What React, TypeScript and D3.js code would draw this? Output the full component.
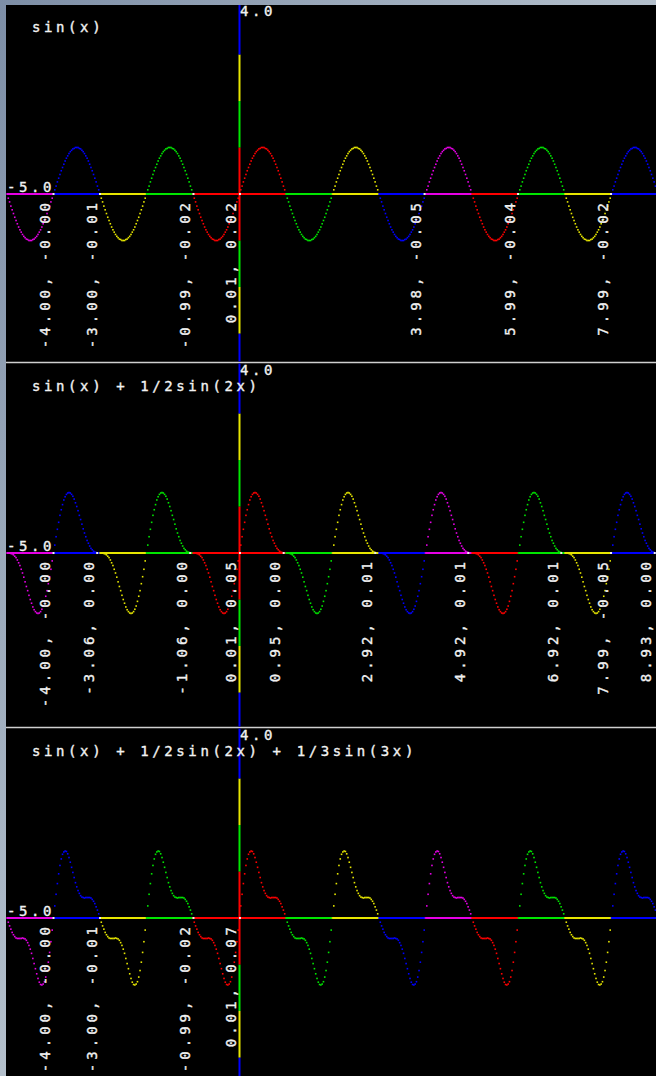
import React, { useEffect, useRef } from 'react';
import * as d3 from 'd3';

// titles of the three plots
const titles = ['sin(x)', 'sin(x) + 1/2sin(2x)', 'sin(x) + 1/2sin(2x) + 1/3sin(3x)'];

// one full cycle (2 x-units) of each curve, one value every 1/36 unit
const sinCycle = [
  0, 0.09, 0.17, 0.26, 0.34, 0.42, 0.5, 0.57, 0.64, 0.71, 0.77, 0.82, 0.87, 0.91, 0.94, 0.97, 0.98, 1.0,
  1.0, 1.0, 0.98, 0.97, 0.94, 0.91, 0.87, 0.82, 0.77, 0.71, 0.64, 0.57, 0.5, 0.42, 0.34, 0.26, 0.17, 0.09,
  0, -0.09, -0.17, -0.26, -0.34, -0.42, -0.5, -0.57, -0.64, -0.71, -0.77, -0.82, -0.87, -0.91, -0.94, -0.97, -0.98, -1.0,
  -1.0, -1.0, -0.98, -0.97, -0.94, -0.91, -0.87, -0.82, -0.77, -0.71, -0.64, -0.57, -0.5, -0.42, -0.34, -0.26, -0.17, -0.09,
];
const sin2Cycle = [
  0, 0.17, 0.35, 0.51, 0.66, 0.81, 0.93, 1.04, 1.14, 1.21, 1.26, 1.29, 1.3, 1.29, 1.26, 1.22, 1.16, 1.08,
  1.0, 0.91, 0.81, 0.72, 0.62, 0.52, 0.43, 0.35, 0.27, 0.21, 0.15, 0.1, 0.07, 0.04, 0.02, 0.01, 0, 0,
  0, 0, 0, -0.01, -0.02, -0.04, -0.07, -0.1, -0.15, -0.21, -0.27, -0.35, -0.43, -0.52, -0.62, -0.72, -0.81, -0.91,
  -1.0, -1.08, -1.16, -1.22, -1.26, -1.29, -1.3, -1.29, -1.26, -1.21, -1.14, -1.04, -0.93, -0.81, -0.66, -0.51, -0.35, -0.17,
];
const sin3Cycle = [
  0, 0.26, 0.51, 0.74, 0.95, 1.13, 1.27, 1.37, 1.42, 1.44, 1.43, 1.38, 1.3, 1.2, 1.09, 0.98, 0.87, 0.76,
  0.67, 0.59, 0.53, 0.48, 0.45, 0.44, 0.43, 0.44, 0.44, 0.44, 0.44, 0.43, 0.4, 0.36, 0.31, 0.24, 0.17, 0.09,
  0, -0.09, -0.17, -0.24, -0.31, -0.36, -0.4, -0.43, -0.44, -0.44, -0.44, -0.44, -0.43, -0.44, -0.45, -0.48, -0.53, -0.59,
  -0.67, -0.76, -0.87, -0.98, -1.09, -1.2, -1.3, -1.38, -1.43, -1.44, -1.42, -1.37, -1.27, -1.13, -0.95, -0.74, -0.51, -0.26,
];
const curves = [sinCycle, sin2Cycle, sin3Cycle];

// x where each cycle starts
const cycleStarts = [-6, -4, -2, 0, 2, 4, 6, 8];

// zero crossing labels "x, y"
const labelX1 = ['-4.00', '-3.00', '-0.99', '0.01', '3.98', '5.99', '7.99'];
const labelY1 = ['-0.00', '-0.01', '-0.02', '0.02', '-0.05', '-0.04', '-0.02'];
const labelX2 = ['-4.00', '-3.06', '-1.06', '0.01', '0.95', '2.92', '4.92', '6.92', '7.99', '8.93'];
const labelY2 = ['-0.00', '0.00', '0.00', '0.05', '0.00', '0.01', '0.01', '0.01', '-0.05', '0.00'];
const labelX3 = ['-4.00', '-3.00', '-0.99', '0.01'];
const labelY3 = ['-0.00', '-0.01', '-0.02', '0.07'];
const labelXs = [labelX1, labelX2, labelX3];
const labelYs = [labelY1, labelY2, labelY3];

const yMaxLabel = '4.0';
const xMinLabel = '-5.0';

// red, green, yellow, blue, magenta counted outwards from zero
const segColors = ['#ff0000', '#00e600', '#e6e600', '#0000ff', '#e600e6'];

const W = 656;
const H = 1076;
const UNIT = 46.5;
const X0 = 239.5;
const panels = [
  { top: 5, bottom: 361.5, axis: 194 },
  { top: 363.5, bottom: 726.5, axis: 553 },
  { top: 728.5, bottom: H, axis: 918 },
];
const FONT = '"DejaVu Sans Mono", monospace';

const colorFor = (k: number) => segColors[k >= 0 ? k % 5 : (-k - 1) % 5];

// shared look of the blocky white text
const styleText = (t: any, spacing: number) =>
  t.attr('font-family', FONT)
    .attr('font-size', 14)
    .attr('letter-spacing', spacing)
    .attr('fill', '#f2f2f2')
    .attr('stroke', '#f2f2f2')
    .attr('stroke-width', 0.35);

const App = () => {
  const ref = useRef<SVGSVGElement>(null);

  useEffect(() => {
    const svg = d3.select(ref.current);
    svg.selectAll('*').remove();

    const grad = svg.append('defs').append('linearGradient')
      .attr('id', 'frame').attr('x1', 0).attr('y1', 0).attr('x2', 1).attr('y2', 1);
    grad.append('stop').attr('offset', 0).attr('stop-color', '#7d8ea6');
    grad.append('stop').attr('offset', 0.5).attr('stop-color', '#b4c0cc');
    grad.append('stop').attr('offset', 1).attr('stop-color', '#d0d6dc');

    svg.append('rect').attr('width', W).attr('height', H).attr('fill', 'url(#frame)');
    svg.append('rect').attr('x', 6).attr('y', 5).attr('width', W - 6).attr('height', H - 5).attr('fill', '#000');

    [362.5, 727.5].forEach(yy => {
      svg.append('line')
        .attr('x1', 6).attr('x2', W).attr('y1', yy).attr('y2', yy)
        .attr('stroke', '#cfcfcf').attr('stroke-width', 1.6);
    });

    const x = d3.scaleLinear().domain([-5, 9]).range([X0 - 5 * UNIT, X0 + 9 * UNIT]);

    panels.forEach((p, pi) => {
      const g = svg.append('g');
      const y = d3.scaleLinear().domain([0, 1]).range([p.axis, p.axis - UNIT]);

      // horizontal axis, one coloured piece per unit
      g.selectAll('.hseg')
        .data(d3.range(-5, 9))
        .enter()
        .append('line')
        .attr('x1', d => x(d))
        .attr('x2', d => Math.min(x(d + 1), W))
        .attr('y1', y(0)).attr('y2', y(0))
        .attr('stroke', d => colorFor(d))
        .attr('stroke-width', 2);

      // vertical axis
      g.selectAll('.vseg')
        .data(d3.range(-4, 4))
        .enter()
        .append('line')
        .attr('x1', x(0)).attr('x2', x(0))
        .attr('y1', d => (d === -4 ? p.bottom : y(d)))
        .attr('y2', d => (d === 3 ? p.top : y(d + 1)))
        .attr('stroke', d => colorFor(d))
        .attr('stroke-width', 2);

      // curve dots
      const cycle = curves[pi];
      const pts = cycleStarts
        .flatMap(c => cycle.map((v, i) => ({ t: c + i / 36, v })))
        .filter(d => d.t >= -5 && x(d.t) <= W);

      g.selectAll('.dot')
        .data(pts)
        .enter()
        .append('rect')
        .attr('x', d => x(d.t) - 0.8)
        .attr('y', d => y(d.v) - 0.8)
        .attr('width', 1.6)
        .attr('height', 1.6)
        .attr('fill', d => colorFor(Math.floor(d.t)));

      // zero crossing markers and labels
      const lx = labelXs[pi];
      const ly = labelYs[pi];
      g.selectAll('.mark')
        .data(lx)
        .enter()
        .append('rect')
        .attr('x', d => x(+d) - 1)
        .attr('y', y(0) - 1)
        .attr('width', 2)
        .attr('height', 2)
        .attr('fill', '#eee');

      styleText(
        g.selectAll('.lbl')
          .data(lx)
          .enter()
          .append('text')
          .attr('transform', d => `translate(${x(+d) - 3.5},${p.axis + 5}) rotate(-90)`)
          .attr('text-anchor', 'end'),
        4.0,
      ).text((d: string, i: number) => `${d}, ${ly[i]}`);

      styleText(g.append('text').attr('x', 32).attr('y', p.axis - 162), 3.6).text(titles[pi]);
      styleText(g.append('text').attr('x', x(0) + 0.5).attr('y', p.axis - 178), 3.6).text(yMaxLabel);
      styleText(g.append('text').attr('x', 7).attr('y', p.axis - 2), 3.6).text(xMinLabel);
    });
  }, []);

  return (
    <svg
      ref={ref}
      width={W}
      height={H}
      style={{ position: 'absolute', left: 0, top: 0, display: 'block' }}
    />
  );
};

export default App;
